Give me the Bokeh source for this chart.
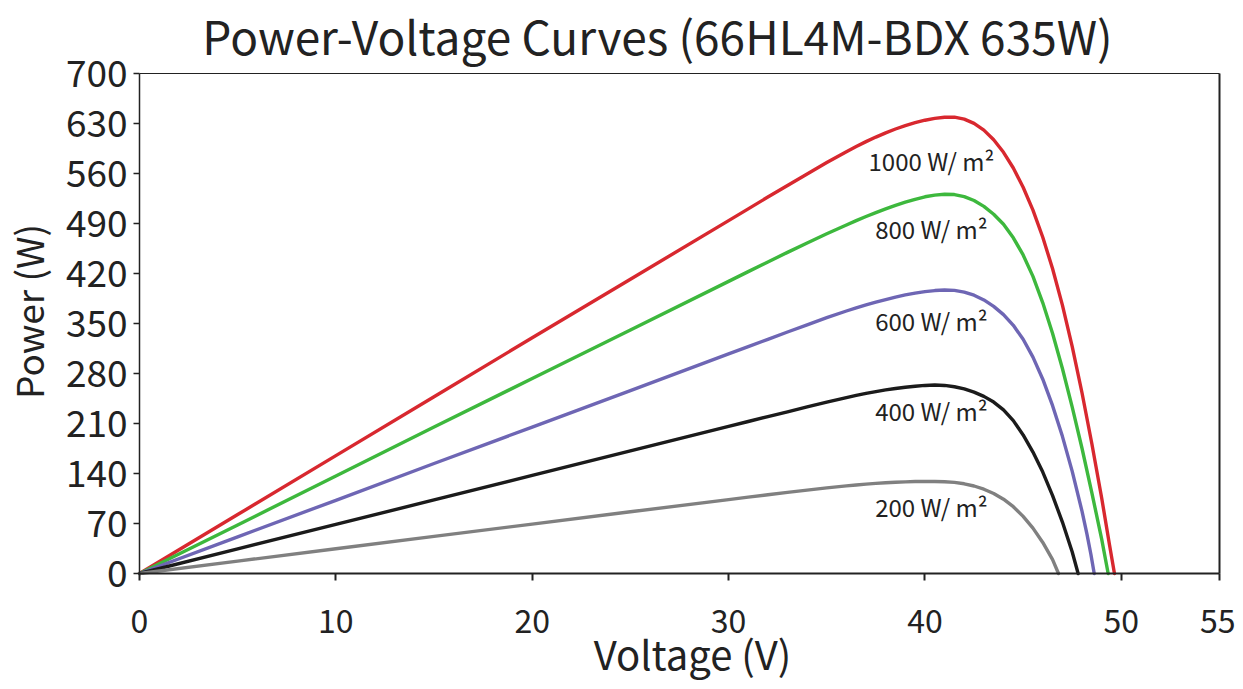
from bokeh.plotting import figure
from bokeh.models import Range1d, FixedTicker, LinearAxis, ColumnDataSource, Label
from bokeh.core.properties import value
from bokeh.embed import file_html
from bokeh.resources import INLINE

# ---------------- data ----------------
title_text = "Power-Voltage Curves (66HL4M-BDX 635W)"
x_label = "Voltage (V)"
y_label = "Power (W)"
x_ticks = [0, 10, 20, 30, 40, 50, 55]
y_ticks = [0, 70, 140, 210, 280, 350, 420, 490, 560, 630, 700]
x_min, x_max = 0, 55
y_min, y_max = 0, 700

series_names = ["1000 W/ m\u00b2", "800 W/ m\u00b2", "600 W/ m\u00b2", "400 W/ m\u00b2", "200 W/ m\u00b2"]

v_1000 = [0, 5, 10, 15, 20, 25, 30, 31, 32, 33, 34, 35, 36, 36.5, 37, 37.5, 38, 38.5, 39, 39.5, 40, 40.5, 41,
          41.5, 42, 42.5, 43, 43.5, 44, 44.5, 45, 45.5, 46, 46.5, 47, 47.5, 48, 48.5, 49, 49.4, 49.65]
p_1000 = [0, 82.5, 165, 247.5, 330, 412, 494, 510.5, 527, 543.3, 559.3, 575.3, 590.6, 597.8, 604.6, 611, 616.9, 622.3, 627.1, 631.2, 634.6, 637.2, 638.8,
          638.9, 636.2, 630.2, 620.7, 607.2, 589.7, 567.7, 540.7, 508.7, 470.7, 426.7, 375.7, 317.7, 252.7, 181.7, 105.7, 40, 0]

v_800 = [0, 5, 10, 15, 20, 25, 30, 31, 32, 33, 34, 35, 36, 36.5, 37, 37.5, 38, 38.5, 39, 39.5, 40, 40.5, 41,
         41.5, 42, 42.5, 43, 43.5, 44, 44.5, 45, 45.5, 46, 46.5, 47, 47.5, 48, 48.5, 49, 49.33]
p_800 = [0, 68, 136.5, 205, 273, 341, 409, 422.6, 436.2, 449.6, 462.8, 475.6, 488, 494, 499.8, 505.3, 510.5, 515.4, 519.9, 523.9, 527.4, 529.8, 531,
         530.5, 527.7, 522.2, 514, 503, 489, 470, 446, 416, 379, 336, 287, 233, 175, 113, 48, 0]

v_600 = [0, 5, 10, 15, 20, 25, 30, 31, 32, 33, 34, 35, 36, 36.5, 37, 37.5, 38, 38.5, 39, 39.5, 40, 40.5, 41,
         41.5, 42, 42.5, 43, 43.5, 44, 44.5, 45, 45.5, 46, 46.5, 47, 47.5, 48, 48.25, 48.45, 48.62]
p_600 = [0, 51.3, 102.5, 154, 205, 256, 307.5, 317.7, 327.9, 338.1, 348.2, 358.1, 367.5, 371.9, 376, 379.8, 383.3, 387, 390, 392.6, 394.7, 396.1, 396.8,
         396.4, 394, 389.6, 383, 374, 362.5, 347.5, 328, 303, 272, 235, 192, 143, 87, 55, 27, 0]

v_400 = [0, 5, 10, 15, 20, 25, 30, 31, 32, 33, 34, 35, 36, 36.5, 37, 37.5, 38, 38.5, 39, 39.5, 40, 40.5, 41,
         41.5, 42, 42.5, 43, 43.5, 44, 44.5, 45, 45.5, 46, 46.5, 47, 47.5, 47.8]
p_400 = [0, 34.4, 68.7, 103, 137.4, 171.7, 206, 212.8, 219.6, 226.4, 233.2, 239.9, 246.3, 249.3, 252.1, 254.7, 257, 259, 260.8, 262.2, 263.3, 263.9, 263.3,
         261.5, 258.5, 254, 248, 240, 229, 214, 194, 170, 142, 109, 72, 30, 0]

v_200 = [0, 5, 10, 15, 20, 25, 30, 31, 32, 33, 34, 35, 36, 36.5, 37, 37.5, 38, 38.5, 39, 39.5, 40, 40.5, 41,
         41.5, 42, 42.5, 43, 43.5, 44, 44.5, 45, 45.5, 46, 46.5, 46.8]
p_200 = [0, 17.3, 34.6, 51.9, 69.2, 86.4, 103.5, 106.9, 110.2, 113.5, 116.7, 119.8, 122.6, 123.9, 125.1, 126.1, 127, 127.7, 128.3, 128.7, 128.9, 128.9, 128.5,
         127.5, 125.6, 122.5, 118, 112, 104, 93.5, 80, 63.5, 43.5, 19.5, 0]

# label anchors (annotation positions, data units)
label_v = [40.33, 40.33, 40.33, 40.33, 40.33]
label_p = [578, 483, 354, 228, 94]

# ---------------- style / layout ----------------
FONT = "Noto Sans CJK SC"
TXT = "#222222"
colors = ["#d8282f", "#3db83d", "#6e66b4", "#1b1b1b", "#808080"]

W, H = 1235, 681
BOX_L, BOX_R, BOX_T, BOX_B = 139, 1219, 73, 573   # plot box in canvas px
sx = (BOX_R - BOX_L) / (x_max - x_min)
sy = (BOX_B - BOX_T) / (y_max - y_min)
# the frame covers the whole canvas; the plot box is the 0..55 x 0..700 part of it
xr = Range1d(x_min - BOX_L / sx, x_max + (W - BOX_R) / sx)
yr = Range1d(y_min - (H - BOX_B) / sy, y_max + BOX_T / sy)

p = figure(width=W, height=H, output_backend="svg", toolbar_location=None,
           x_range=xr, y_range=yr, min_border=0,
           min_border_left=0, min_border_right=0, min_border_top=0, min_border_bottom=0)
p.background_fill_color = "white"
p.border_fill_color = "white"
p.outline_line_color = None
p.xgrid.visible = False
p.ygrid.visible = False

series = [(v_1000, p_1000), (v_800, p_800), (v_600, p_600), (v_400, p_400), (v_200, p_200)]
for (vv, pp), c in zip(series, colors):
    p.line(vv, pp, line_color=c, line_width=3.4, line_join="round", line_cap="round")

lab_src = ColumnDataSource(dict(x=label_v, y=label_p, t=series_names))
p.text(x="x", y="y", text="t", source=lab_src, text_font=value(FONT), text_font_size="24px",
       text_color=TXT, text_align="center", text_baseline="alphabetic")

# axes
xa = p.xaxis[0]
xa.fixed_location = y_min
xa.ticker = FixedTicker(ticks=x_ticks)
xa.bounds = (x_min, x_max)
xa.axis_line_width = 2
xa.axis_line_color = TXT
xa.major_tick_line_width = 2
xa.major_tick_line_color = TXT
xa.major_tick_out = 7
xa.major_tick_in = 0
xa.minor_tick_line_color = None
xa.major_label_text_font = FONT
xa.major_label_text_font_size = "32px"
xa.major_label_text_color = TXT
xa.major_label_standoff = 28

ya = p.yaxis[0]
ya.fixed_location = x_min
ya.ticker = FixedTicker(ticks=y_ticks)
ya.bounds = (y_min, y_max)
ya.axis_line_width = 1.5
ya.axis_line_color = TXT
ya.major_tick_line_width = 1.5
ya.major_tick_line_color = TXT
ya.major_tick_out = 6
ya.major_tick_in = 0
ya.minor_tick_line_color = None
ya.major_label_text_font = FONT
ya.major_label_text_font_size = "37px"
ya.major_label_text_color = TXT
ya.major_label_standoff = 6

# right and top edges of the plot box
ra = LinearAxis(fixed_location=x_max, ticker=FixedTicker(ticks=[]), major_label_text_font_size="0px",
                axis_line_width=2, axis_line_color=TXT, major_tick_line_color=None,
                minor_tick_line_color=None, bounds=(y_min, y_max))
p.add_layout(ra, "right")
ta = LinearAxis(fixed_location=y_max, ticker=FixedTicker(ticks=[]), major_label_text_font_size="0px",
                axis_line_width=1, axis_line_color=TXT, major_tick_line_color=None,
                minor_tick_line_color=None, bounds=(x_min, x_max))
p.add_layout(ta, "above")

# titles (screen px, from the canvas bottom-left; glyph baseline sits ~0.42em below the anchor)
def add_text(text, cx, baseline_y, size, angle=0):
    off = 0.42 * size
    if angle == 0:
        p.add_layout(Label(x=cx, y=H - (baseline_y - off), x_units="screen", y_units="screen",
                           text=text, text_font=FONT, text_font_size=f"{size}px", text_color=TXT,
                           text_align="center", text_baseline="alphabetic"))
    else:
        p.add_layout(Label(x=baseline_y - off, y=H - cx, x_units="screen", y_units="screen",
                           text=text, text_font=FONT, text_font_size=f"{size}px", text_color=TXT,
                           text_align="center", text_baseline="alphabetic",
                           angle=90, angle_units="deg"))

add_text(title_text, 657, 54, 46)
add_text(x_label, 692, 669, 40)
add_text(y_label, 311, 43, 37, angle=90)

open("out.html", "w").write(file_html(p, INLINE))
